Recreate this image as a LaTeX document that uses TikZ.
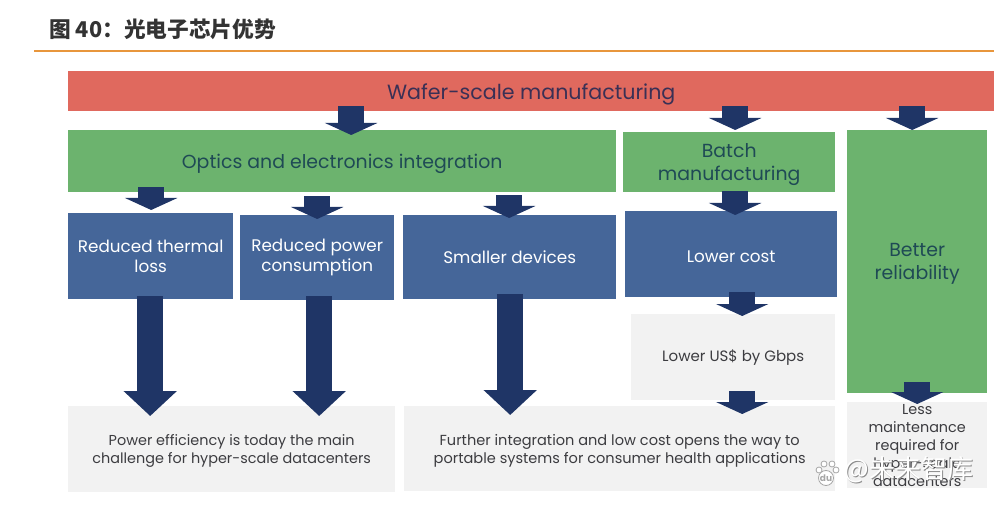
\documentclass[tikz,border=0pt]{standalone}
\usepackage{fontspec}
\usepackage{xcolor}
\usepackage{tikz}
\usetikzlibrary{arrows.meta,positioning}
\setmainfont{Poppins}
\newfontfamily\cjkfont{Noto Sans CJK SC}
\definecolor{waferred}{HTML}{E0695E}
\definecolor{optgreen}{HTML}{6CB36E}
\definecolor{gainblue}{HTML}{456699}
\definecolor{arrownavy}{HTML}{1F3566}
\definecolor{notegray}{HTML}{F2F2F2}
\definecolor{waferink}{HTML}{3A3055}
\definecolor{greenink}{HTML}{1F4A55}
\definecolor{noteink}{HTML}{3C3C40}
\definecolor{ruleorange}{HTML}{E8963C}

\begin{document}
\begin{tikzpicture}[
  x=1pt, y=-1pt,
  banner/.style={fill=waferred, text=waferink, align=center, anchor=north west, inner sep=0pt, text depth=0pt, font=\fontsize{20.6}{24}\selectfont},
  group/.style={fill=optgreen, text=greenink, align=center, anchor=north west, inner sep=0pt, text depth=0pt, font=\fontsize{18.9}{23}\selectfont},
  gain/.style={fill=gainblue, text=white, align=center, anchor=north west, inner sep=0pt, font=\fontsize{16.8}{20}\selectfont},
  note/.style={fill=notegray, text=noteink, align=center, anchor=north west, inner sep=0pt, text depth=0pt, font=\fontsize{14.4}{18}\selectfont},
  edge/.style={-{Triangle[length=12pt,width=52pt,sep=0pt]}, line width=26pt, draw=arrownavy},
  longedge/.style={-{Triangle[length=25pt,width=52pt,sep=0pt]}, line width=26pt, draw=arrownavy},
  toe/.style={draw=black!35, fill=white, line width=.8pt}
]
\useasboundingbox (0,0) rectangle (994,508);
\node[anchor=north west, inner sep=0pt, font=\cjkfont\bfseries\fontsize{21.7}{26}\selectfont, text=black!80] (title) at (49,19) {图 40：光电子芯片优势};
\coordinate (ruleL) at (34,51);
\coordinate (ruleR) at (994,51);
\draw[ruleorange, line width=1.4pt] (ruleL) -- (ruleR);

\node[banner, minimum width=926pt, minimum height=40pt] (wafer) at (68,71) {Wafer-scale manufacturing};
\node[group, minimum width=548pt, minimum height=62pt] (optics) at (68,130) {Optics and electronics integration};
\node[group, minimum width=212pt, minimum height=60pt] (batch) at (623,132) {Batch\\manufacturing};
\node[group, minimum width=140pt, minimum height=263pt] (better) at (847,130) {Better\\reliability};
\node[gain, minimum width=165pt, minimum height=86pt] (thermal) at (68,213) {Reduced thermal\\loss};
\node[gain, minimum width=154pt, minimum height=85pt] (power) at (240,215) {Reduced power\\consumption};
\node[gain, minimum width=213pt, minimum height=84pt] (smaller) at (403,215) {Smaller devices};
\node[gain, minimum width=212pt, minimum height=86pt, text height=16.5pt] (cost) at (625,211) {Lower cost};
\node[note, minimum width=204pt, minimum height=86pt, text depth=, font=\fontsize{15}{18}\selectfont] (usd) at (631,314) {Lower US\$ by Gbps};
\node[note, minimum width=327pt, minimum height=86pt] (efficiency) at (68,406) {Power efficiency is today the main\\challenge for hyper-scale datacenters};
\node[note, minimum width=431pt, minimum height=85pt, font=\fontsize{14.55}{18}\selectfont] (further) at (404,406) {Further integration and low cost opens the way to\\portable systems for consumer health applications};
\node[note, minimum width=140pt, minimum height=86pt] (less) at (847,402) {Less\\maintenance\\required for\\hyper-scale\\datacenters};

\draw[edge] ([xshift=-180pt,yshift=5pt]wafer.south) -- ([xshift=9pt,yshift=-5pt]optics.north);
\draw[edge] ([xshift=204pt,yshift=5pt]wafer.south) -- ([xshift=6pt,yshift=2pt]batch.north);
\draw[edge] ([xshift=381pt,yshift=5pt]wafer.south) -- ([xshift=-5pt]better.north);
\draw[edge] ([xshift=-191pt,yshift=5pt]optics.south) -- ([xshift=.5pt,yshift=3pt]thermal.north);
\draw[edge] ([xshift=-25pt,yshift=-4pt]optics.south) -- ([yshift=-4pt]power.north);
\draw[edge] ([xshift=167pt,yshift=-3pt]optics.south) -- ([xshift=-.5pt,yshift=-3pt]smaller.north);
\draw[edge] ([xshift=6pt,yshift=1pt]batch.south) -- ([xshift=4pt,yshift=-4pt]cost.north);
\draw[edge] ([xshift=11pt,yshift=5pt]cost.south) -- ([xshift=9pt,yshift=-2pt]usd.north);
\draw[edge] ([xshift=9pt,yshift=9pt]usd.south) -- ([xshift=122.5pt,yshift=-8pt]further.north);
\draw[edge] ([yshift=11pt]better.south) -- ([yshift=-2pt]less.north);
\draw[longedge] ([xshift=-.5pt,yshift=3pt]thermal.south) -- ([xshift=-81.5pt,yshift=-10pt]efficiency.north);
\draw[longedge] ([xshift=2pt,yshift=4pt]power.south) -- ([xshift=87.5pt,yshift=-10pt]efficiency.north);
\draw[longedge] ([xshift=.5pt,yshift=5pt]smaller.south) -- ([xshift=-109.5pt,yshift=-9pt]further.north);

% watermark
\foreach \tx/\ty in {819/470,824/464,832/464,836/470}
  \draw[toe] (\tx,\ty) circle (3pt);
\draw[toe] (826,478) circle (7.5pt);
\node[font=\fontsize{9}{9}\selectfont\bfseries, text=black!35, inner sep=0pt] (du) at (826,478) {du};
\node[font=\cjkfont\fontsize{26}{28}\selectfont, text=black!45, inner sep=0pt] (markback) at (909.7,470.7) {@未来智库};
\node[font=\cjkfont\fontsize{26}{28}\selectfont, text=white, inner sep=0pt] (mark) at (909,470) {@未来智库};
\end{tikzpicture}
\end{document}
